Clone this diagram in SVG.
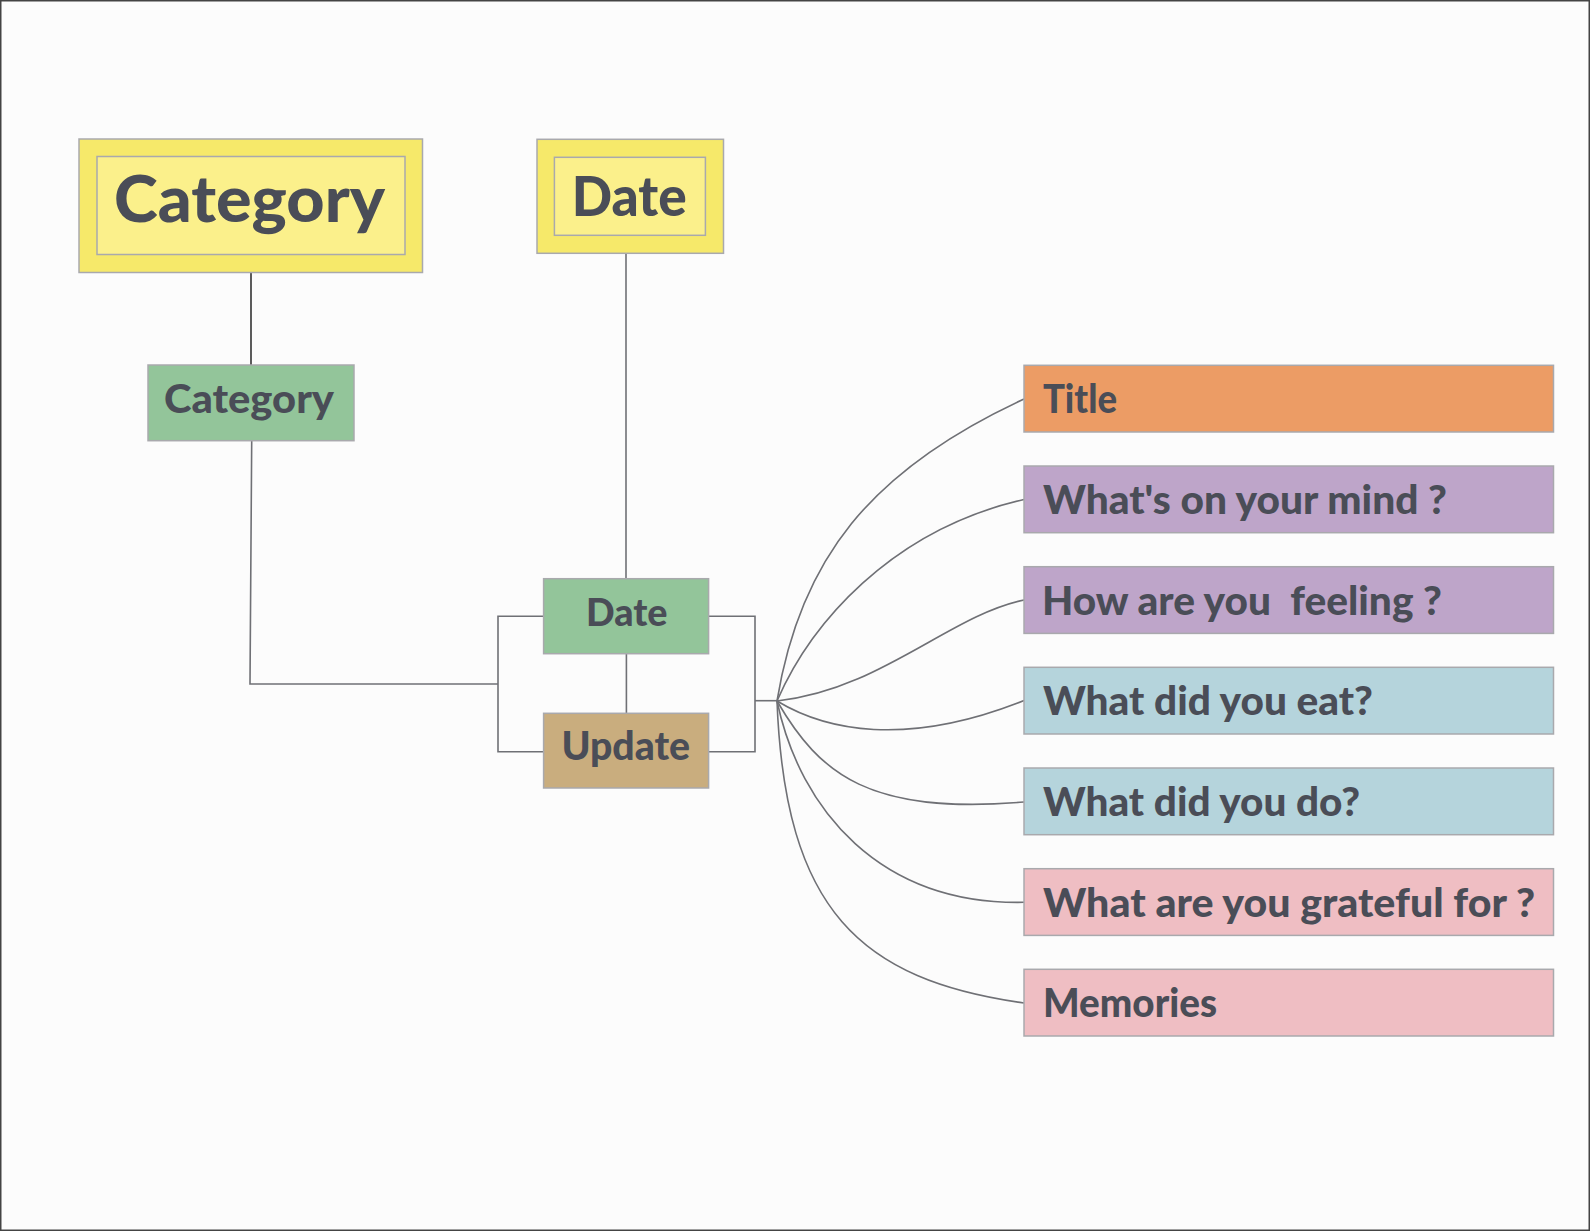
<svg xmlns="http://www.w3.org/2000/svg" width="1590" height="1231" viewBox="0 0 1590 1231">
<style>
.box{stroke:#a9a9ad;stroke-width:1.5}
.t{font-family:Lato,"Open Sans","Liberation Sans",sans-serif;font-weight:900;fill:#4a4d57}
.c{fill:none;stroke:#6f7075;stroke-width:1.6}
</style>
<rect x="0" y="0" width="1590" height="1231" fill="#fcfcfc" stroke="#444" stroke-width="3"/>
<g id="connectors">
<path class="c" d="M251,273 V365" stroke="#222" style="stroke:#333"/>
<path class="c" d="M626,254 V579"/>
<path class="c" d="M251.7,441 L250,684 H498"/>
<path class="c" d="M626.4,654 V713"/>
<path class="c" d="M543.6,616.3 H498 V751.7 H543.6"/>
<path class="c" d="M708.6,616.3 H755 V751.7 H708.6"/>
<path class="c" d="M755,700.7 H777"/>
<path class="c" d="M777,701 C800,560 870,470 1024,399"/>
<path class="c" d="M777,701 C810,625 890,530 1024,499.5"/>
<path class="c" d="M777,701 C880,690 950,615 1024,600"/>
<path class="c" d="M777,701 C825,730 905,748 1024,700.5"/>
<path class="c" d="M777,701 C820,775 870,815 1024,802"/>
<path class="c" d="M777,701 C800,810 880,905 1024,902.3"/>
<path class="c" d="M777,701 C785,910 860,980 1024,1003"/>
</g>
<g id="category-main">
<rect class="box" x="79" y="139" width="343.5" height="133.5" fill="#f6e96a"/>
<rect class="box" x="97" y="156.5" width="308" height="98" fill="#fbf08b"/>
<text class="t" x="114" y="221.7" font-size="64" textLength="271" lengthAdjust="spacingAndGlyphs">Category</text>
</g>
<g id="date-main">
<rect class="box" x="537" y="139.3" width="186.5" height="114" fill="#f6e96a"/>
<rect class="box" x="554.4" y="157.3" width="151" height="78" fill="#fbf08b"/>
<text class="t" x="571.7" y="215.7" font-size="55" textLength="115" lengthAdjust="spacingAndGlyphs">Date</text>
</g>
<g id="category">
<rect class="box" x="148" y="365" width="206" height="75.7" fill="#93c59a"/>
<text class="t" x="164" y="413.3" font-size="40" textLength="170" lengthAdjust="spacingAndGlyphs">Category</text>
</g>
<g id="date">
<rect class="box" x="543.6" y="578.7" width="165" height="75" fill="#93c59a"/>
<text class="t" x="586" y="625.7" font-size="37" textLength="81.5" lengthAdjust="spacingAndGlyphs">Date</text>
</g>
<g id="update">
<rect class="box" x="543.6" y="713.3" width="165" height="74.7" fill="#c9ad7e"/>
<text class="t" x="561.4" y="760" font-size="39" textLength="128.6" lengthAdjust="spacingAndGlyphs">Update</text>
</g>
<g id="title">
<rect class="box" x="1024" y="365.3" width="529.5" height="66.7" fill="#ec9c65"/>
<text class="t" x="1043" y="413.3" font-size="39" textLength="74" lengthAdjust="spacingAndGlyphs">Title</text>
</g>
<g id="mind">
<rect class="box" x="1024" y="466" width="529.5" height="66.7" fill="#bea5c9"/>
<text class="t" x="1043" y="514.3" font-size="39" textLength="404" lengthAdjust="spacingAndGlyphs">What's on your mind ?</text>
</g>
<g id="feeling">
<rect class="box" x="1024" y="566.7" width="529.5" height="66.7" fill="#bea5c9"/>
<text class="t" x="1042" y="615" font-size="39" textLength="400" lengthAdjust="spacingAndGlyphs" xml:space="preserve">How are you  feeling ?</text>
</g>
<g id="eat">
<rect class="box" x="1024" y="667.3" width="529.5" height="66.7" fill="#b5d4dc"/>
<text class="t" x="1043" y="715.3" font-size="39" textLength="330" lengthAdjust="spacingAndGlyphs">What did you eat?</text>
</g>
<g id="do">
<rect class="box" x="1024" y="768" width="529.5" height="66.7" fill="#b5d4dc"/>
<text class="t" x="1043" y="816" font-size="39" textLength="317" lengthAdjust="spacingAndGlyphs">What did you do?</text>
</g>
<g id="grateful">
<rect class="box" x="1024" y="868.7" width="529.5" height="66.7" fill="#efbec3"/>
<text class="t" x="1043" y="916.7" font-size="39" textLength="492" lengthAdjust="spacingAndGlyphs">What are you grateful for ?</text>
</g>
<g id="memories">
<rect class="box" x="1024" y="969.3" width="529.5" height="66.7" fill="#efbec3"/>
<text class="t" x="1043" y="1017.3" font-size="39" textLength="174" lengthAdjust="spacingAndGlyphs">Memories</text>
</g>
</svg>
